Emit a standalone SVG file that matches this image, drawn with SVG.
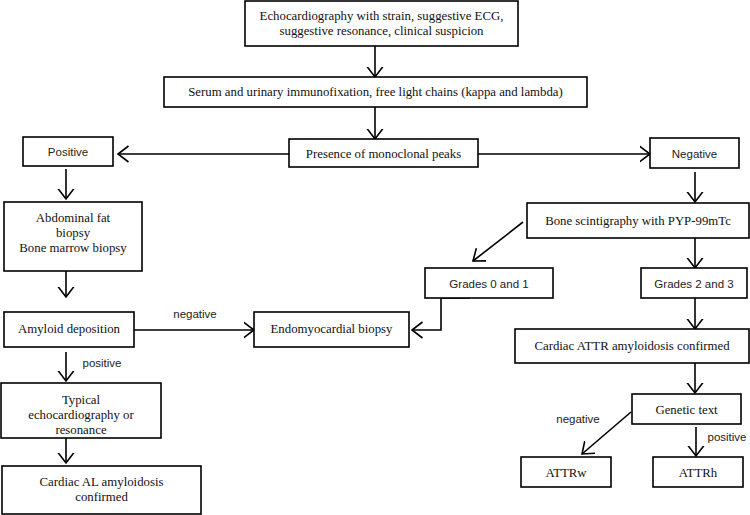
<svg xmlns="http://www.w3.org/2000/svg" width="750" height="515" viewBox="0 0 750 515">
<style>
.box{fill:#fff;stroke:#000;stroke-width:1.6}
.t{font-family:"Liberation Serif","Times New Roman",serif;font-size:12.8px;fill:#111;text-anchor:middle}
.s{font-family:"Liberation Sans",Arial,sans-serif;font-size:11.5px;fill:#222;text-anchor:middle}
.c{fill:none;stroke:#000;stroke-width:1.6;marker-end:url(#a)}
</style>
<defs>
<marker id="a" markerUnits="userSpaceOnUse" viewBox="0 0 12 18" refX="10.5" refY="9" markerWidth="12" markerHeight="18" orient="auto">
<path d="M0,1 L10.5,9 L0,17" fill="none" stroke="#000" stroke-width="1.6"/>
</marker>
</defs>
<rect width="750" height="515" fill="#fff"/>
<g id="connectors">
<path class="c" d="M375,46 V77"/>
<path class="c" d="M375,107 V139"/>
<path class="c" d="M289,154 H118"/>
<path class="c" d="M478,154 H650"/>
<path class="c" d="M66,169 V199"/>
<path class="c" d="M695,172 V202"/>
<path class="c" d="M523,222 L473,261"/>
<path class="c" d="M695,238 V268"/>
<path class="c" d="M470,298 H441 V330 H412"/>
<path class="c" d="M66,271 V297"/>
<path class="c" d="M134,330 H254"/>
<path class="c" d="M66,352 V381"/>
<path class="c" d="M66,438 V463"/>
<path class="c" d="M695,298 V329"/>
<path class="c" d="M695,363 V393"/>
<path class="c" d="M631,412 L582,454"/>
<path class="c" d="M696,427 V456"/>
<text class="s" x="195" y="318">negative</text>
<text class="s" x="102" y="367">positive</text>
<text class="s" x="578" y="423">negative</text>
<text class="s" x="727" y="441">positive</text>
</g>
<g id="n1"><rect class="box" x="245" y="1" width="273" height="45"/>
<text class="t" x="381.5" y="20">Echocardiography with strain, suggestive ECG,</text>
<text class="t" x="381.5" y="35">suggestive resonance, clinical suspicion</text></g>
<g id="n2"><rect class="box" x="164" y="77" width="423" height="30"/>
<text class="t" x="375.5" y="96">Serum and urinary immunofixation, free light chains (kappa and lambda)</text></g>
<g id="n3"><rect class="box" x="289" y="139" width="189" height="28"/>
<text class="t" x="383.5" y="158">Presence of monoclonal peaks</text></g>
<g id="n4"><rect class="box" x="23" y="137" width="90" height="29"/>
<text class="s" x="68" y="156">Positive</text></g>
<g id="n5"><rect class="box" x="650" y="138" width="89" height="30"/>
<text class="s" x="694.5" y="158">Negative</text></g>
<g id="n6"><rect class="box" x="4" y="202" width="138" height="69"/>
<text class="t" x="73" y="222">Abdominal fat</text>
<text class="t" x="73" y="237">biopsy</text>
<text class="t" x="73" y="252">Bone marrow biopsy</text></g>
<g id="n7"><rect class="box" x="527" y="203" width="222" height="35"/>
<text class="t" x="638" y="225">Bone scintigraphy with PYP-99mTc</text></g>
<g id="n8"><rect class="box" x="425" y="268" width="128" height="30"/>
<text class="s" x="489" y="288">Grades 0 and 1</text></g>
<g id="n9"><rect class="box" x="641" y="268" width="106" height="30"/>
<text class="s" x="694" y="288">Grades 2 and 3</text></g>
<g id="n10"><rect class="box" x="4" y="312" width="130" height="35"/>
<text class="t" x="69" y="333">Amyloid deposition</text></g>
<g id="n11"><rect class="box" x="254" y="312" width="155" height="35"/>
<text class="t" x="331.5" y="333">Endomyocardial biopsy</text></g>
<g id="n12"><rect class="box" x="515" y="329" width="234" height="34"/>
<text class="t" x="632" y="350">Cardiac ATTR amyloidosis confirmed</text></g>
<g id="n13"><rect class="box" x="1" y="383" width="160" height="55"/>
<text class="t" x="81" y="404">Typical</text>
<text class="t" x="81" y="419">echocardiography or</text>
<text class="t" x="81" y="434">resonance</text></g>
<g id="n14"><rect class="box" x="632" y="394" width="109" height="30"/>
<text class="t" x="686.5" y="414">Genetic text</text></g>
<g id="n15"><rect class="box" x="2" y="466" width="199" height="48"/>
<text class="t" x="101.5" y="486">Cardiac AL amyloidosis</text>
<text class="t" x="101.5" y="501">confirmed</text></g>
<g id="n16"><rect class="box" x="521" y="457" width="90" height="30"/>
<text class="t" x="566" y="477">ATTRw</text></g>
<g id="n17"><rect class="box" x="653" y="457" width="90" height="30"/>
<text class="t" x="698" y="477">ATTRh</text></g>
</svg>
